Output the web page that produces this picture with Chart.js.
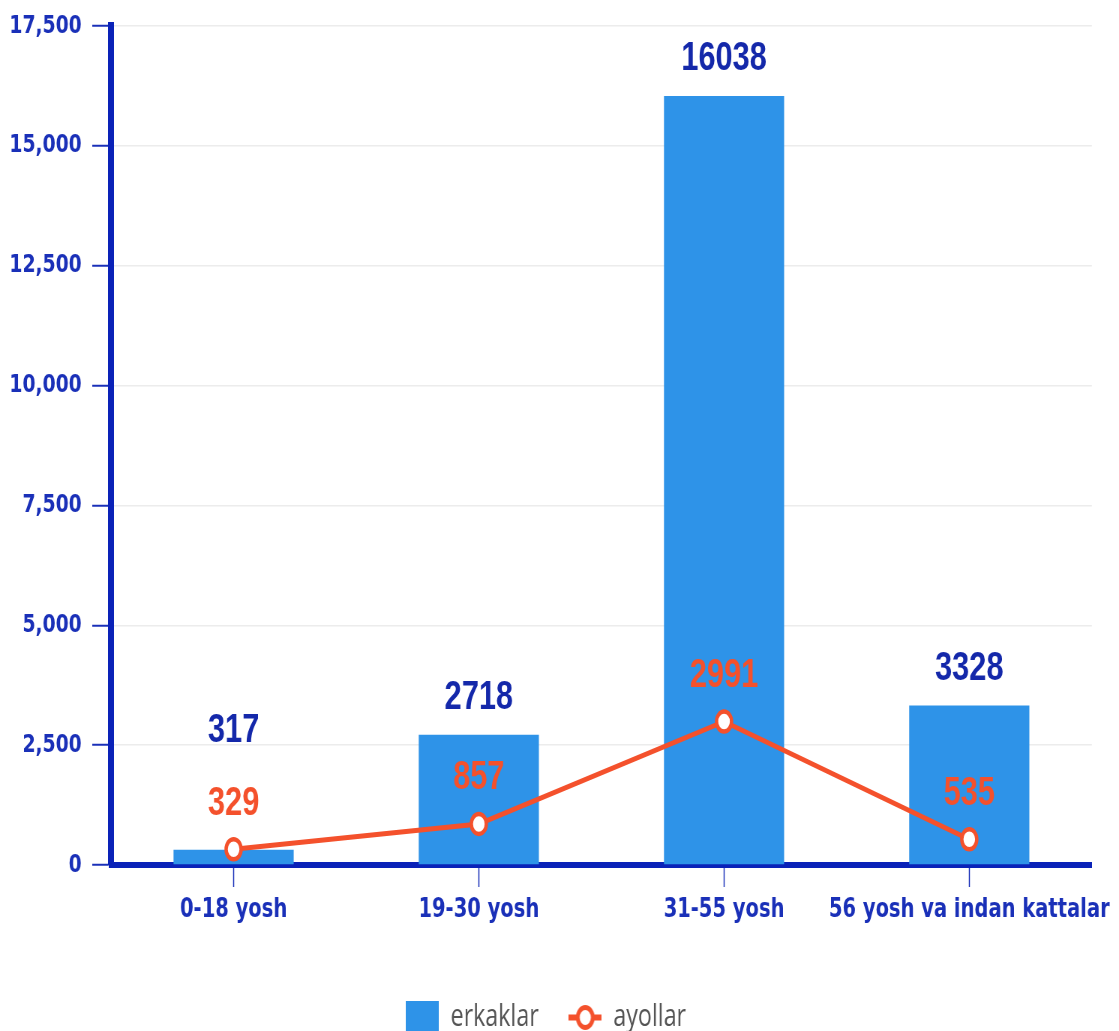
<!DOCTYPE html>
<html>
<head>
<meta charset="utf-8">
<script src="https://cdn.jsdelivr.net/npm/chart.js@4"></script>
<style>
html,body{margin:0;padding:0;background:#fff;overflow:hidden;width:1119px;height:1031px;}
#wrap{position:absolute;left:0;top:0;width:1492px;height:1031px;transform:scaleX(0.75);transform-origin:0 0;}
</style>
</head>
<body>
<div id="wrap"><canvas id="c"></canvas></div>
<script>
const categories = ["0-18 yosh", "19-30 yosh", "31-55 yosh", "56 yosh va indan kattalar"];
const erkaklar = [317, 2718, 16038, 3328];
const ayollar = [329, 857, 2991, 535];
const seriesNames = ["erkaklar", "ayollar"];
const yMax = 17500;
const yStep = 2500;

const BAR = '#2e93e8';
const LINE = '#f4512c';
const AXIS = '#0a22b8';
const TXT = '#1a30b8';
const VAL = '#1428aa';

function legendIcon(kind) {
  const cv = document.createElement('canvas');
  cv.width = 44; cv.height = 33;
  const g = cv.getContext('2d');
  if (kind === 'bar') {
    g.fillStyle = BAR;
    g.fillRect(0, 0, 44, 33);
  } else {
    g.strokeStyle = LINE; g.lineWidth = 6;
    g.beginPath(); g.moveTo(0, 16.5); g.lineTo(44, 16.5); g.stroke();
    g.fillStyle = '#fff'; g.lineWidth = 5;
    g.beginPath(); g.arc(22, 16.5, 10, 0, Math.PI * 2); g.fill(); g.stroke();
  }
  return cv;
}
const icons = [legendIcon('bar'), legendIcon('line')];

const valueLabels = {
  id: 'valueLabels',
  afterDatasetsDraw(chart) {
    const ctx = chart.ctx;
    const barMeta = chart.getDatasetMeta(0);
    const lineMeta = chart.getDatasetMeta(1);
    ctx.save();
    ctx.font = 'bold 41px "Liberation Sans", Arial, sans-serif';
    ctx.textAlign = 'center';
    ctx.textBaseline = 'middle';
    const lineLabelY = [];
    lineMeta.data.forEach((pt, i) => {
      const y = pt.y - 46;
      lineLabelY.push(y);
      ctx.fillStyle = LINE;
      ctx.fillText(String(ayollar[i]), pt.x, y);
    });
    barMeta.data.forEach((bar, i) => {
      const y = Math.min(bar.y - 37, lineLabelY[i] - 73);
      ctx.fillStyle = VAL;
      ctx.fillText(String(erkaklar[i]), bar.x, y);
    });
    ctx.restore();
  }
};

new Chart(document.getElementById('c'), {
  type: 'bar',
  data: {
    labels: categories,
    datasets: [
      {
        type: 'bar',
        label: seriesNames[0],
        data: erkaklar,
        backgroundColor: BAR,
        barPercentage: 0.49,
        categoryPercentage: 1.0,
        order: 1
      },
      {
        type: 'line',
        label: seriesNames[1],
        data: ayollar,
        borderColor: LINE,
        borderWidth: 5,
        pointRadius: 10,
        pointHoverRadius: 10,
        pointBorderWidth: 4.5,
        pointBackgroundColor: '#fff',
        pointBorderColor: LINE,
        tension: 0,
        order: 0
      }
    ]
  },
  options: {
    responsive: true,
    maintainAspectRatio: false,
    animation: false,
    devicePixelRatio: 1,
    layout: { padding: { top: 26, right: 36, left: 0, bottom: -12 } },
    plugins: {
      tooltip: { enabled: false },
      legend: {
        position: 'bottom',
        labels: {
          usePointStyle: true,
          boxHeight: 33,
          pointStyleWidth: 44,
          padding: 40,
          color: '#555',
          font: { family: '"Open Sans", sans-serif', size: 31 },
          sort: (a, b) => a.datasetIndex - b.datasetIndex,
          generateLabels(chart) {
            return chart.data.datasets.map((ds, i) => ({
              text: ds.label,
              datasetIndex: i,
              pointStyle: icons[i],
              fillStyle: i === 0 ? BAR : '#fff',
              strokeStyle: i === 0 ? BAR : LINE,
              lineWidth: 0,
              hidden: false,
              fontColor: '#555'
            }));
          }
        }
      }
    },
    scales: {
      x: {
        grid: {
          offset: false,
          drawOnChartArea: false,
          drawTicks: true,
          tickLength: 22,
          tickColor: TXT,
          tickWidth: 1.5
        },
        border: { color: AXIS, width: 6 },
        ticks: {
          color: TXT,
          padding: 8,
          maxRotation: 0,
          autoSkip: false,
          font: { family: '"DejaVu Sans", sans-serif', size: 26, weight: 'bold' }
        },
        afterFit(scale) { scale.height = 97; }
      },
      y: {
        min: 0,
        max: yMax,
        grid: {
          color: '#ececec',
          lineWidth: 1.5,
          tickLength: 25,
          tickColor: TXT,
          tickWidth: 2
        },
        border: { color: AXIS, width: 8 },
        ticks: {
          stepSize: yStep,
          color: TXT,
          padding: 14,
          font: { family: '"DejaVu Sans", sans-serif', size: 25, weight: 'bold' },
          callback: (v) => v.toLocaleString('en-US')
        },
        afterFit(scale) {
          scale.width = 148;
          scale.paddingTop = 15;
          scale.paddingBottom = 15;
        }
      }
    }
  },
  plugins: [valueLabels]
});
</script>
</body>
</html>
